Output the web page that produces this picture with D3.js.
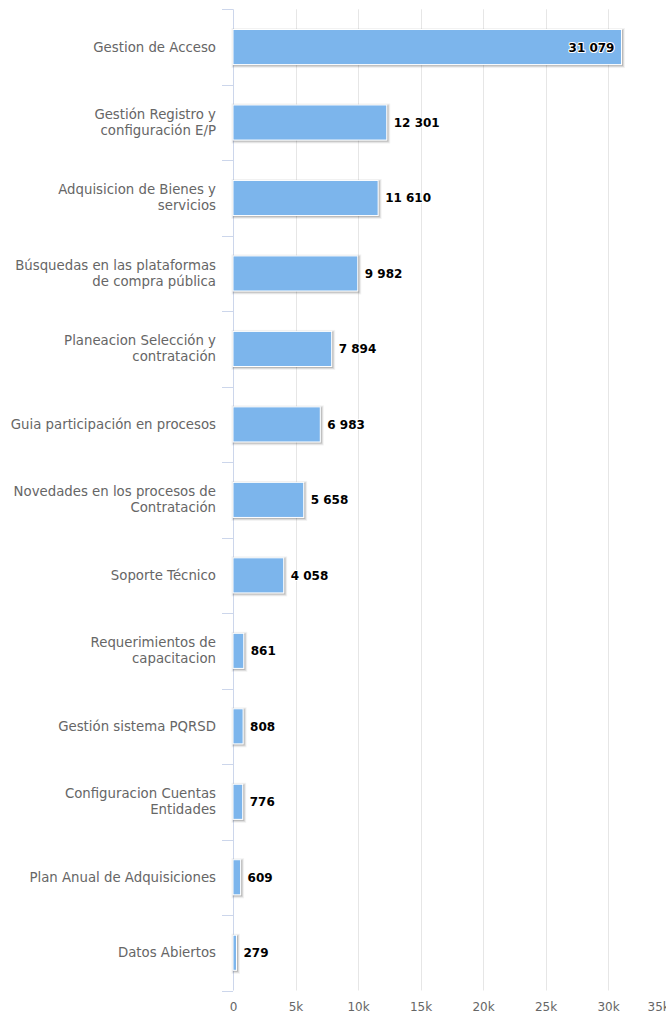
<!DOCTYPE html>
<html>
<head>
<meta charset="utf-8">
<script src="https://cdn.jsdelivr.net/npm/d3@7"></script>
<style>
  body { margin: 0; background: #fff; }
  svg { display: block; font-family: "DejaVu Sans", Verdana, sans-serif; }
</style>
</head>
<body>
<div class="chart"></div>
<script>
// Categories (line breaks as in the original wrapped labels)
var categories = [
  "Gestion de Acceso",
  "Gestión Registro y\nconfiguración E/P",
  "Adquisicion de Bienes y\nservicios",
  "Búsquedas en las plataformas\nde compra pública",
  "Planeacion Selección y\ncontratación",
  "Guia participación en procesos",
  "Novedades en los procesos de\nContratación",
  "Soporte Técnico",
  "Requerimientos de\ncapacitacion",
  "Gestión sistema PQRSD",
  "Configuracion Cuentas\nEntidades",
  "Plan Anual de Adquisiciones",
  "Datos Abiertos"
];
var values = [31079, 12301, 11610, 9982, 7894, 6983, 5658, 4058, 861, 808, 776, 609, 279];
var xTicks = [0, 5000, 10000, 15000, 20000, 25000, 30000, 35000];

var svgWidth = 666;
var svgHeight = 1017;
var margin = { top: 9.3, left: 233, bottom: 26.5 };
var plotRight = 670.5;
var plotBottom = svgHeight - margin.bottom;

var svg = d3.select(".chart")
  .append("svg")
  .attr("width", svgWidth)
  .attr("height", svgHeight);

var data = categories.map(function(c, i) { return { name: c, value: values[i] }; });

// Scales
var x = d3.scaleLinear().domain([0, 35000]).range([margin.left, plotRight]);
var y = d3.scaleBand()
  .domain(categories)
  .range([margin.top, plotBottom])
  .paddingInner(0.535)
  .paddingOuter(0.2675);
var step = y.step();

// Grid lines
svg.append("g")
  .selectAll("line")
  .data(xTicks.slice(1))
  .enter()
  .append("line")
  .attr("x1", d => Math.round(x(d)) + 0.5)
  .attr("x2", d => Math.round(x(d)) + 0.5)
  .attr("y1", margin.top)
  .attr("y2", plotBottom)
  .attr("stroke", "#e6e6e6");

// X axis labels (no line)
var xAxis = d3.axisBottom(x)
  .tickValues(xTicks)
  .tickSize(0)
  .tickPadding(12)
  .tickFormat(d => d === 0 ? "0" : (d / 1000) + "k");

var xg = svg.append("g")
  .attr("transform", `translate(0, ${plotBottom})`)
  .call(xAxis);
xg.select(".domain").remove();
xg.selectAll("text")
  .attr("fill", "#666")
  .style("font-size", "12px")
  .style("font-family", "DejaVu Sans, Verdana, sans-serif");
// last label is pushed left like the original (still runs off the edge)
xg.selectAll(".tick")
  .filter(d => d === 35000)
  .select("text")
  .attr("text-anchor", "start")
  .attr("x", 647 - x(35000));

// Y axis line and ticks at band boundaries
var yAxisG = svg.append("g");
yAxisG.append("line")
  .attr("x1", margin.left + 0.5)
  .attr("x2", margin.left + 0.5)
  .attr("y1", margin.top)
  .attr("y2", plotBottom)
  .attr("stroke", "#ccd6eb");
var boundaries = d3.range(categories.length + 1).map(i => margin.top + i * step);
yAxisG.selectAll(".tk")
  .data(boundaries)
  .enter()
  .append("line")
  .attr("class", "tk")
  .attr("x1", margin.left - 11)
  .attr("x2", margin.left)
  .attr("y1", d => Math.round(d) + 0.5)
  .attr("y2", d => Math.round(d) + 0.5)
  .attr("stroke", "#ccd6eb");

// Category labels
var lineH = 16;
svg.append("g")
  .selectAll("text")
  .data(data)
  .enter()
  .append("text")
  .attr("text-anchor", "end")
  .attr("fill", "#666")
  .style("font-size", "13.3px")
  .each(function(d) {
    var lines = d.name.split("\n");
    var cy = y(d.name) + y.bandwidth() / 2;
    var y0 = cy - (lines.length - 1) * lineH / 2 + 4.5;
    var t = d3.select(this);
    lines.forEach(function(l, i) {
      t.append("tspan")
        .attr("x", 216)
        .attr("y", y0 + i * lineH)
        .text(l);
    });
  });

// Bars with shadow
var bars = svg.append("g");
var shadow = bars.selectAll(".shadow")
  .data(data)
  .enter()
  .append("g")
  .attr("class", "shadow");
[[5, 0.05], [3, 0.1], [1, 0.15]].forEach(function(s) {
  shadow.append("rect")
    .attr("x", d => x(0) + 1)
    .attr("y", d => y(d.name) + 1)
    .attr("width", d => x(d.value) - x(0))
    .attr("height", y.bandwidth())
    .attr("fill", "none")
    .attr("stroke", "#000")
    .attr("stroke-opacity", s[1])
    .attr("stroke-width", s[0]);
});

bars.selectAll(".bar")
  .data(data)
  .enter()
  .append("rect")
  .attr("class", "bar")
  .attr("x", x(0))
  .attr("y", d => y(d.name))
  .attr("width", d => x(d.value) - x(0))
  .attr("height", y.bandwidth())
  .attr("fill", "#7cb5ec")
  .attr("stroke", "#fff")
  .attr("stroke-width", 1);

// Data labels
var fmt = v => d3.format(",")(v).replace(/,/g, " ");
svg.append("g")
  .selectAll("text")
  .data(data)
  .enter()
  .append("text")
  .attr("y", d => y(d.name) + y.bandwidth() / 2 + 4.5)
  .style("font-size", "12px")
  .style("font-weight", "bold")
  .attr("fill", "#000")
  .attr("stroke", "#fff")
  .attr("stroke-width", 2)
  .attr("stroke-linejoin", "round")
  .attr("paint-order", "stroke")
  .text(d => fmt(d.value))
  .each(function(d) {
    var w = this.getComputedTextLength();
    var end = x(d.value);
    var t = d3.select(this);
    if (end + 7 + w > svgWidth - 5) {
      t.attr("x", end - 7).attr("text-anchor", "end");
    } else {
      t.attr("x", end + 7).attr("text-anchor", "start");
    }
  });
</script>
</body>
</html>
